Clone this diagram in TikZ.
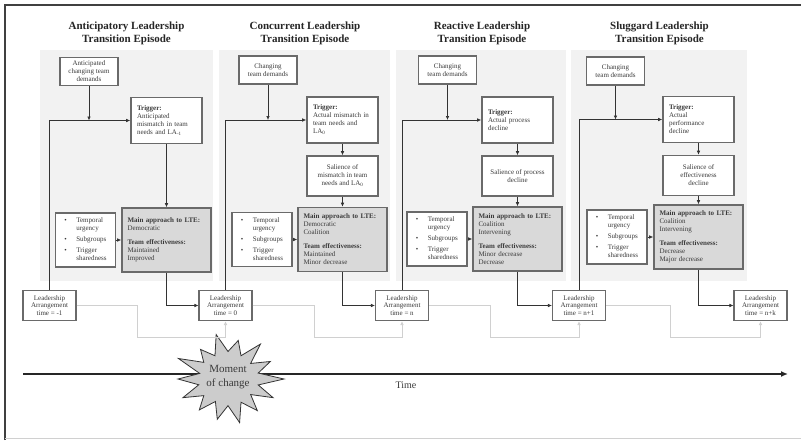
\documentclass[tikz,border=0pt]{standalone}
\usepackage{fontspec}
\setmainfont{Liberation Serif}
\usetikzlibrary{arrows.meta}
\definecolor{panelgray}{HTML}{F2F2F2}
\definecolor{maingray}{HTML}{D9D9D9}
\definecolor{boxedge}{HTML}{6A6A6A}
\definecolor{txt}{HTML}{3A3A3A}
\definecolor{lightline}{HTML}{D0D0D0}
\definecolor{stargray}{HTML}{CCCCCC}
\newcommand{\mybullets}{\begin{tabular}{@{}p{12pt}@{}l@{}}\textbullet&Temporal\\&urgency\\[3pt]\textbullet&Subgroups\\[3pt]\textbullet&Trigger\\&sharedness\end{tabular}}
\tikzset{
  tbox/.style={draw=boxedge, line width=1.6pt, fill=white, text=txt, inner sep=0pt, font=\fontsize{7}{8}\selectfont},
  dem/.style={tbox, minimum width=58pt, minimum height=28pt, align=center},
  trig/.style={tbox, minimum width=71pt, minimum height=46pt, text width=59pt, align=left},
  sal/.style={tbox, minimum width=71pt, minimum height=40pt, align=center},
  mainb/.style={tbox, fill=maingray, minimum width=89pt, minimum height=64pt, text width=78pt, align=left},
  bul/.style={draw=boxedge, line width=1.1pt, fill=white, text=txt, inner sep=0pt, minimum width=60pt, minimum height=54pt, font=\fontsize{7}{8}\selectfont},
  lead/.style={draw=boxedge, line width=1.1pt, fill=white, text=txt, inner sep=0pt, minimum width=53pt, minimum height=30pt, align=center, font=\fontsize{7}{7.5}\selectfont},
  ttl/.style={align=center, font=\bfseries\fontsize{11}{13}\selectfont, text=black!85},
  arr/.style={-{Latex[length=4pt,width=3.6pt]}, line width=0.7pt, draw=black!80},
  garr/.style={-{Latex[length=4pt,width=3.6pt]}, line width=1pt, draw=lightline},
}
\begin{document}
\begin{tikzpicture}[x=1pt,y=-1pt]
\useasboundingbox (0,0) rectangle (801,440);
\fill[white] (0,0) rectangle (801,440);
% frame
\draw[black!75, line width=1.6pt] (5,440) -- (5,5) -- (801,5);
\draw[lightline, line width=1pt] (5,438) -- (801,438);
% panels
\foreach \x/\w in {40/173,219/171,396/170,571/176}
  \fill[panelgray] (\x,50) rectangle ++(\w,231);
% titles
\node[ttl] (t1) at (126.5,33.5) {Anticipatory Leadership\\Transition Episode};
\node[ttl] (t2) at (305,33.5) {Concurrent Leadership\\Transition Episode};
\node[ttl] (t3) at (482,33.5) {Reactive Leadership\\Transition Episode};
\node[ttl] (t4) at (659.5,33.5) {Sluggard Leadership\\Transition Episode};
% time axis
\coordinate (ax0) at (23,374);
\coordinate (ax1) at (788,374);
\draw[line width=1.8pt, -{Latex[length=7pt,width=6pt]}, black!85] (ax0) -- (ax1);
\node[font=\fontsize{10}{12}\selectfont, text=txt] (time) at (406,385) {Time};
% star
\begin{scope}[shift={(228,379)}, yscale=0.86]
\filldraw[fill=stargray, draw=black!80, line width=0.8pt] (0:56)
  \foreach \a/\r in {12.9/31,25.7/50,38.6/29,51.4/47,64.3/30,77.1/52,90/31,102.9/48,115.7/29,128.6/46,141.4/31,154.3/50,167.1/30,180/50,192.9/29,205.7/55,218.6/31,231.4/44,244.3/30,257.1/53,270/32,282.9/46,295.7/30,308.6/52,321.4/29,334.3/47,347.1/31} { -- (\a:\r) } -- cycle;
\end{scope}
\node[font=\fontsize{11}{14}\selectfont, text=txt, align=center] (moc) at (228,377) {Moment\\of change};
% leadership boxes
\node[lead] (L1) at (49.5,305.5) {Leadership\\Arrangement\\time = -1};
\node[lead] (L2) at (225.5,305.5) {Leadership\\Arrangement\\time = 0};
\node[lead] (L3) at (402,305.5) {Leadership\\Arrangement\\time = n};
\node[lead] (L4) at (579,305.5) {Leadership\\Arrangement\\time = n+1};
\node[lead] (L5) at (760.5,305.5) {Leadership\\Arrangement\\time = n+k};
% panel 1
\node[dem] (D1) at (89,71.5) {Anticipated\\changing team\\demands};
\node[trig] (T1) at (166.5,120.5) {\textbf{Trigger:}\\Anticipated\\mismatch in team\\needs and LA\textsubscript{-1}};
\node[bul] (B1) at (85.5,240) {\mybullets};
\node[mainb] (M1) at (166.5,240) {\textbf{Main approach to LTE:}\\Democratic\\[6pt]\textbf{Team effectiveness:}\\Maintained\\Improved};
% panel 2
\node[dem] (D2) at (268,70) {Changing\\team demands};
\node[trig] (T2) at (342.5,120) {\textbf{Trigger:}\\Actual mismatch in\\team needs and\\LA\textsubscript{0}};
\node[sal] (S2) at (342.5,176) {Salience of\\mismatch in team\\needs and LA\textsubscript{0}};
\node[bul] (B2) at (262,239.5) {\mybullets};
\node[mainb] (M2) at (342.5,239.5) {\textbf{Main approach to LTE:}\\Democratic\\Coalition\\[6pt]\textbf{Team effectiveness:}\\Maintained\\Minor decrease};
% panel 3
\node[dem] (D3) at (447.5,70) {Changing\\team demands};
\node[trig] (T3) at (517.5,120) {\textbf{Trigger:}\\Actual process\\decline};
\node[sal] (S3) at (517.5,176) {Salience of process\\decline};
\node[bul] (B3) at (437,239) {\mybullets};
\node[mainb] (M3) at (517.5,239) {\textbf{Main approach to LTE:}\\Coalition\\Intervening\\[6pt]\textbf{Team effectiveness:}\\Minor decrease\\Decrease};
% panel 4
\node[dem] (D4) at (615.5,71) {Changing\\team demands};
\node[trig] (T4) at (698.5,119.5) {\textbf{Trigger:}\\Actual\\performance\\decline};
\node[sal] (S4) at (698.5,175.5) {Salience of\\effectiveness\\decline};
\node[bul] (B4) at (617,237) {\mybullets};
\node[mainb] (M4) at (698.5,237) {\textbf{Main approach to LTE:}\\Coalition\\Intervening\\[6pt]\textbf{Team effectiveness:}\\Decrease\\Major decrease};
% gray connectors
\coordinate (g1) at (137,337);
\coordinate (g2) at (314,337);
\coordinate (g3) at (490,337);
\coordinate (g4) at (670,337);
\draw[garr] (L1.east) -| (g1) -| (L2.south);
\draw[garr] (L2.east) -| (g2) -| (L3.south);
\draw[garr] (L3.east) -| (g3) -| (L4.south);
\draw[garr] (L4.east) -| (g4) -| (L5.south);
% black connectors
\draw[arr] (D1.south) -- (D1.south |- T1.west);
\draw[arr] (L1.north) |- (T1.west);
\draw[arr] (T1.south) -- (M1.north);
\draw[arr] (B1.east) -- (B1.east -| M1.west);
\draw[arr] (M1.south) |- (L2.west);
\draw[arr] (D2.south) -- (D2.south |- T2.west);
\draw[arr] (L2.north) |- (T2.west);
\draw[arr] (T2.south) -- (S2.north);
\draw[arr] (S2.south) -- (M2.north);
\draw[arr] (B2.east) -- (B2.east -| M2.west);
\draw[arr] (M2.south) |- (L3.west);
\draw[arr] (D3.south) -- (D3.south |- T3.west);
\draw[arr] (L3.north) |- (T3.west);
\draw[arr] (T3.south) -- (S3.north);
\draw[arr] (S3.south) -- (M3.north);
\draw[arr] (B3.east) -- (B3.east -| M3.west);
\draw[arr] (M3.south) |- (L4.west);
\draw[arr] (D4.south) -- (D4.south |- T4.west);
\draw[arr] (L4.north) |- (T4.west);
\draw[arr] (T4.south) -- (S4.north);
\draw[arr] (S4.south) -- (M4.north);
\draw[arr] (B4.east) -- (B4.east -| M4.west);
\draw[arr] (M4.south) |- (L5.west);
\end{tikzpicture}
\end{document}
